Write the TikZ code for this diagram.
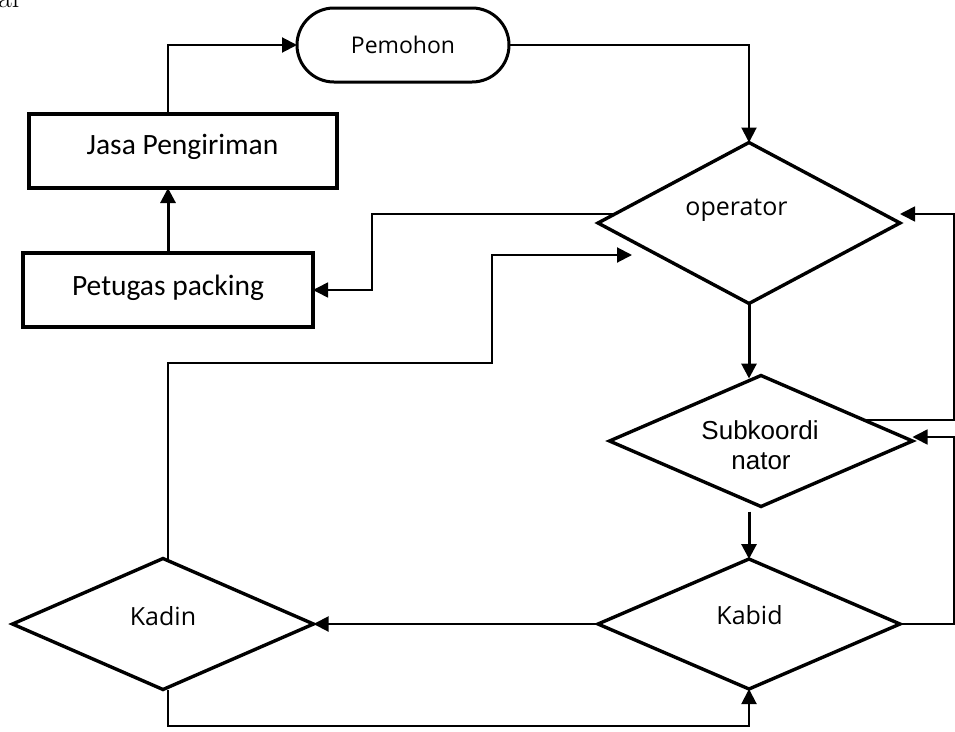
\documentclass[tikz,border=0pt]{standalone}
\usepackage{fontspec}
\newfontfamily\osans{Open Sans}
\newfontfamily\carl{Carlito}
\newfontfamily\lsans{Liberation Sans}
\usetikzlibrary{shapes.geometric,arrows.meta,calc}
\begin{document}
\begin{tikzpicture}[x=1pt,y=-1pt,
  shapebox/.style={draw, line width=3.4pt, inner sep=0pt, outer sep=0pt},
  rbox/.style={shapebox, rectangle, line width=3.8pt},
  term/.style={shapebox, rectangle, rounded corners=37pt, line width=3pt},
  dia/.style={shapebox, diamond},
  conn/.style={line width=2pt},
  thinline/.style={line width=1.6pt},
  heavy/.style={line width=3pt},
  arr/.style={-{Triangle[length=15pt,width=15pt]}},
  lbl/.style={inner sep=0pt, anchor=base},
  ostext/.style={font=\osans\fontsize{25}{30}\selectfont},
  cbtext/.style={font=\carl\fontsize{29.5}{35}\selectfont},
  lstext/.style={font=\lsans\fontsize{26}{30}\selectfont}]

\fill[white] (0,0) rectangle (955,731);
\useasboundingbox (0,0) rectangle (955,731);

% leftover heading text at the top edge
\node[inner sep=0pt, anchor=base west, font=\fontsize{30}{36}\selectfont] at (-2,7) {al};

% shapes
\node[term, minimum width=212pt, minimum height=74pt] (pem) at (403,45) {};
\node[rbox, minimum width=308pt, minimum height=74pt] (jasa) at (183,151) {};
\node[rbox, minimum width=290pt, minimum height=74pt] (pet) at (168,290) {};
\node[dia, minimum width=302pt, minimum height=161pt] (op) at (749,223) {};
\node[dia, minimum width=303pt, minimum height=131pt] (subk) at (761,441) {};
\node[dia, minimum width=302pt, minimum height=130pt] (kab) at (749,624) {};
\node[dia, minimum width=301pt, minimum height=131pt] (kad) at (163,624) {};

% labels
\node[lbl, font=\osans\fontsize{23}{28}\selectfont] at (403,53) {Pemohon};
\node[lbl, cbtext] at (182.5,154) {Jasa Pengiriman};
\node[lbl, cbtext] at (168,295) {Petugas packing};
\node[lbl, ostext] at (736.5,215) {operator};
\node[lbl, lstext] at (760,439) {Subkoordi};
\node[lbl, lstext] at (761,469) {nator};
\node[lbl, ostext] at (749.5,624) {Kabid};
\node[lbl, ostext] at (163,625) {Kadin};

% helper points
\coordinate (k1) at (372,0);
\coordinate (k2) at (492,363);
\coordinate (opin) at (632,255);
\coordinate (xr) at (954,0);
\coordinate (opl) at ($(op.west)!0.11!(op.north)$);
\coordinate (sk1) at ($(subk.north)!0.68!(subk.east)$);

% connectors
\draw[conn,arr] ($(jasa.north)+(-15,0)$) |- (pem.west);
\draw[heavy,arr] (pet.north) -- (pet.north |- jasa.south);
\draw[conn,arr] (pem.east) -| (op.north);
\draw[thinline,arr] (opl) -| (k1 |- pet.east) -- (pet.east);
\draw[conn,arr] ([xshift=5pt]kad.north) |- (k2) |- (opin);
\draw[heavy,arr] (op.south) -- ($(op.south |- subk.north)+(0,3)$);
\draw[heavy,arr] ($(kab.north |- subk.south)+(0,5)$) -- (kab.north);
\draw[thinline,arr] (sk1) -- (sk1 -| xr) |- ([yshift=9pt]op.east);
\draw[thinline,arr] (kab.east) -- (kab.east -| xr) |- ([yshift=4pt]subk.east);
\draw[conn,arr] (kab.west) -- (kad.east);
\draw[conn,arr] ([xshift=5pt]kad.south) -- ++(0,36) -| (kab.south);
\end{tikzpicture}
\end{document}
